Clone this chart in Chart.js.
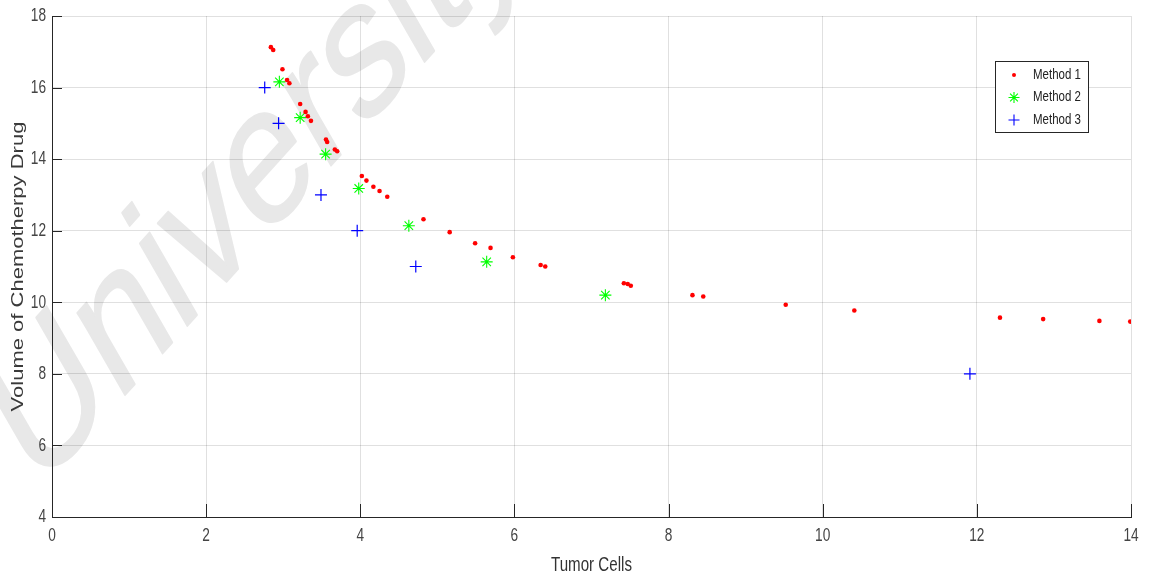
<!DOCTYPE html>
<html>
<head>
<meta charset="utf-8">
<title>Tumor Cells vs Chemotherapy Drug</title>
<script src="https://cdn.jsdelivr.net/npm/chart.js@4/dist/chart.umd.min.js"></script>
<style>
  html, body { margin: 0; padding: 0; background: #fff; }
  #wrap { width: 1150px; height: 575px; }
</style>
</head>
<body>
<div id="wrap"><canvas id="grafico" width="1150" height="575"></canvas></div>
<script>
// Method 1: tumor cells / drug volume
const m1X = [2.84, 2.87, 2.99, 3.05, 3.08, 3.22, 3.29, 3.32, 3.36, 3.555, 3.57, 3.67, 3.70,
  4.02, 4.08, 4.17, 4.25, 4.35, 4.82, 5.16, 5.49, 5.69, 5.98, 6.34, 6.40,
  7.42, 7.47, 7.51, 8.31, 8.45, 9.52, 10.41, 12.30, 12.86, 13.59, 13.99];
const m1Y = [17.13, 17.05, 16.51, 16.21, 16.12, 15.54, 15.32, 15.20, 15.07, 14.55, 14.48, 14.27, 14.22,
  13.53, 13.40, 13.23, 13.11, 12.95, 12.32, 11.96, 11.65, 11.52, 11.26, 11.04, 11.00,
  10.53, 10.51, 10.46, 10.20, 10.16, 9.93, 9.77, 9.57, 9.53, 9.48, 9.46];

// Method 2
const m2X = [2.95, 3.22, 3.55, 3.98, 4.63, 5.64, 7.18];
const m2Y = [16.16, 15.16, 14.14, 13.18, 12.14, 11.13, 10.20];

// Method 3
const m3X = [2.76, 2.94, 3.49, 3.96, 4.72, 11.91];
const m3Y = [16, 15, 13, 12, 11, 8];

const seriesNames = ["Method 1", "Method 2", "Method 3"];
const xTitle = "Tumor Cells";
const yTitle = "Volume of Chemotherpy Drug";
const marca = "University";

const xMin = 0, xMax = 14, yMin = 4, yMax = 18, paso = 2;

function puntos(xs, ys) {
  return xs.map((x, i) => ({ x: x, y: ys[i] }));
}

// texto con compresion horizontal (sx)
function texto(ctx, str, x, y, font, align, sx, color) {
  ctx.save();
  ctx.translate(x, y);
  ctx.scale(sx, 1);
  ctx.font = font;
  ctx.fillStyle = color;
  ctx.textAlign = align;
  ctx.textBaseline = "middle";
  ctx.fillText(str, 0, 0);
  ctx.restore();
}

// marcadores de la leyenda
function marcador(ctx, tipo, x, y, r, color) {
  ctx.save();
  ctx.strokeStyle = color;
  ctx.fillStyle = color;
  ctx.lineWidth = 1.1;
  ctx.beginPath();
  if (tipo === "circle") {
    ctx.arc(x, y, r, 0, Math.PI * 2);
    ctx.fill();
  } else {
    ctx.moveTo(x - r, y); ctx.lineTo(x + r, y);
    ctx.moveTo(x, y - r); ctx.lineTo(x, y + r);
    if (tipo === "star") {
      const d = r * Math.SQRT1_2;
      ctx.moveTo(x - d, y - d); ctx.lineTo(x + d, y + d);
      ctx.moveTo(x - d, y + d); ctx.lineTo(x + d, y - d);
    }
    ctx.stroke();
  }
  ctx.restore();
}

// Marca de agua detras de todo (la rejilla se pinta encima)
const fondoPlugin = {
  id: "fondo",
  beforeDraw(chart) {
    const ctx = chart.ctx;
    ctx.save();
    ctx.fillStyle = "#fff";
    ctx.fillRect(0, 0, chart.width, chart.height);
    ctx.scale(0.72, 1);
    ctx.translate(50, 494);
    ctx.rotate(-38.7 * Math.PI / 180);
    ctx.font = "200px 'Liberation Sans', Arial, sans-serif";
    ctx.fillStyle = "#e8e8e8";
    ctx.strokeStyle = "#e8e8e8";
    ctx.lineWidth = 2;
    ctx.lineJoin = "round";
    ctx.textBaseline = "alphabetic";
    ctx.fillText(marca, 0, 0);
    ctx.strokeText(marca, 0, 0);
    ctx.restore();
  }
};

// Ejes estilo MATLAB: marcas hacia dentro, etiquetas, titulos y leyenda
const ejesPlugin = {
  id: "ejes",
  afterDraw(chart) {
    const ctx = chart.ctx;
    const sx = chart.scales.x, sy = chart.scales.y;
    const area = chart.chartArea;
    const fTick = "19px 'Liberation Sans', Arial, sans-serif";
    const gris = "#444";

    ctx.save();
    ctx.strokeStyle = "#262626";
    ctx.lineWidth = 1;
    ctx.beginPath();
    sy.ticks.forEach(t => {
      const py = Math.round(sy.getPixelForValue(t.value)) + 0.5;
      ctx.moveTo(area.left, py); ctx.lineTo(area.left + 10, py);
    });
    sx.ticks.forEach(t => {
      const px = Math.round(sx.getPixelForValue(t.value)) + 0.5;
      ctx.moveTo(px, area.bottom); ctx.lineTo(px, area.bottom - 13);
    });
    ctx.stroke();
    ctx.restore();

    sy.ticks.forEach(t => {
      texto(ctx, String(t.value), area.left - 6, sy.getPixelForValue(t.value), fTick, "right", 0.72, gris);
    });
    sx.ticks.forEach(t => {
      texto(ctx, String(t.value), sx.getPixelForValue(t.value), area.bottom + 19, fTick, "center", 0.72, gris);
    });

    texto(ctx, xTitle, (area.left + area.right) / 2, 565, "21px 'Liberation Sans', Arial, sans-serif", "center", 0.72, "#333");

    ctx.save();
    ctx.translate(19, (area.top + area.bottom) / 2);
    ctx.rotate(-Math.PI / 2);
    ctx.scale(1, 0.72);
    ctx.font = "22px 'Liberation Sans', Arial, sans-serif";
    ctx.fillStyle = "#3a3a3a";
    ctx.textAlign = "center";
    ctx.textBaseline = "middle";
    ctx.fillText(yTitle, 0, 0);
    ctx.restore();

    // leyenda
    const lx = 995.5, ly = 61.5, lw = 93, lh = 71;
    ctx.save();
    ctx.fillStyle = "#fff";
    ctx.fillRect(lx, ly, lw, lh);
    ctx.strokeStyle = "#262626";
    ctx.lineWidth = 1;
    ctx.strokeRect(lx, ly, lw, lh);
    ctx.restore();
    chart.data.datasets.forEach((ds, i) => {
      const y = 75 + i * 22.5;
      const r = ds.pointStyle === "circle" ? 2 : 5.5;
      marcador(ctx, ds.pointStyle, 1014, y, r, ds.borderColor);
      texto(ctx, ds.label, 1033, y, "14px 'Liberation Sans', Arial, sans-serif", "left", 0.82, "#222");
    });
  }
};

const ctx = document.getElementById("grafico");

new Chart(ctx, {
  type: "scatter",
  data: {
    datasets: [
      {
        label: seriesNames[0],
        data: puntos(m1X, m1Y),
        pointStyle: "circle",
        pointRadius: 2.3,
        pointBorderWidth: 0,
        backgroundColor: "#ff0000",
        borderColor: "#ff0000"
      },
      {
        label: seriesNames[1],
        data: puntos(m2X, m2Y),
        pointStyle: "star",
        pointRadius: 6,
        pointBorderWidth: 1.1,
        backgroundColor: "#00ff00",
        borderColor: "#00ff00"
      },
      {
        label: seriesNames[2],
        data: puntos(m3X, m3Y),
        pointStyle: "cross",
        pointRadius: 6,
        pointBorderWidth: 1.2,
        backgroundColor: "#0000ff",
        borderColor: "#0000ff"
      }
    ]
  },
  options: {
    responsive: false,
    devicePixelRatio: 1,
    animation: false,
    layout: { padding: { top: 16, right: 19, left: 0, bottom: 0 } },
    plugins: {
      legend: { display: false },
      tooltip: { enabled: false }
    },
    scales: {
      x: {
        type: "linear",
        min: xMin,
        max: xMax,
        ticks: { stepSize: paso, display: false },
        grid: { color: "rgba(0,0,0,0.12)", drawTicks: false },
        border: { display: true, color: "#262626", width: 1 },
        afterFit(s) { s.height = 58; }
      },
      y: {
        type: "linear",
        min: yMin,
        max: yMax,
        ticks: { stepSize: paso, display: false },
        grid: { color: "rgba(0,0,0,0.12)", drawTicks: false },
        border: { display: true, color: "#262626", width: 1 },
        afterFit(s) { s.width = 52; }
      }
    }
  },
  plugins: [fondoPlugin, ejesPlugin]
});
</script>
</body>
</html>
